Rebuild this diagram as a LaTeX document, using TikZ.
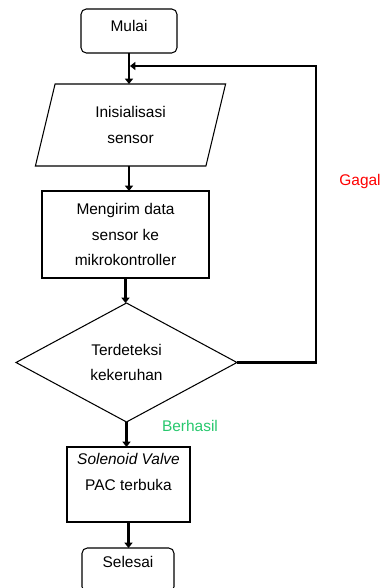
\documentclass[tikz,border=0pt]{standalone}
\usepackage{fontspec}
\setmainfont{Liberation Sans}
\usetikzlibrary{shapes.geometric,arrows.meta}
\begin{document}
\begin{tikzpicture}[x=0.02cm,y=0.02cm,
  font=\fontsize{8.8}{14.5}\selectfont,
  box/.style={draw,line width=0.6pt,inner sep=0pt,outer sep=0pt,align=center},
  term/.style={box,rounded corners=3pt,text height=6.5pt,text depth=9.5pt},
  proc/.style={box,rectangle},
  io/.style={box,trapezium,trapezium left angle=76,trapezium right angle=104,trapezium stretches=true},
  cond/.style={box,diamond},
  flow/.style={line width=1.2pt,-{Triangle[length=3pt,width=4.5pt]}}]
\useasboundingbox (0,0) rectangle (382,588);
% langkah-langkah
\node[term,text depth=5.5pt,minimum width=1.92cm,minimum height=0.88cm] (mulai) at (129,557) {Mulai};
\node[io,minimum width=3.82cm,minimum height=1.64cm] (init) at (130.5,463) {Inisialisasi\\sensor};
\node[proc,minimum width=3.34cm,minimum height=1.74cm] (kirim) at (125.5,353.5) {Mengirim data\\sensor ke\\mikrokontroller};
\node[cond,minimum width=4.42cm,minimum height=2.38cm] (cek) at (126.5,225.5) {Terdeteksi\\kekeruhan};
\node[proc,minimum width=2.46cm,minimum height=1.5cm] (valve) at (128.5,103.5) {\textit{Solenoid Valve}\\PAC terbuka\\~};
\node[term,minimum width=1.84cm,minimum height=0.88cm] (selesai) at (128,18) {Selesai};
\coordinate (gabung) at (130,522);
% alur
\draw[flow] (mulai.south) -- (mulai.south |- init.north);
\draw[flow] (mulai.south |- init.south) -- (mulai.south |- kirim.north);
\draw[flow] (kirim.south) -- (kirim.south |- cek.north);
\draw[flow] (cek.south) -- (cek.south |- valve.north);
\draw[flow] (valve.south) -- (valve.south |- selesai.north);
\draw[flow] (cek.east) -- ++(79,0) |- (gabung);
% keterangan
\node[text=red] (gagal) at (360,406) {Gagal};
\node[text={rgb,255:red,40;green,200;blue,110}] (berhasil) at (190,162) {Berhasil};
\end{tikzpicture}
\end{document}
